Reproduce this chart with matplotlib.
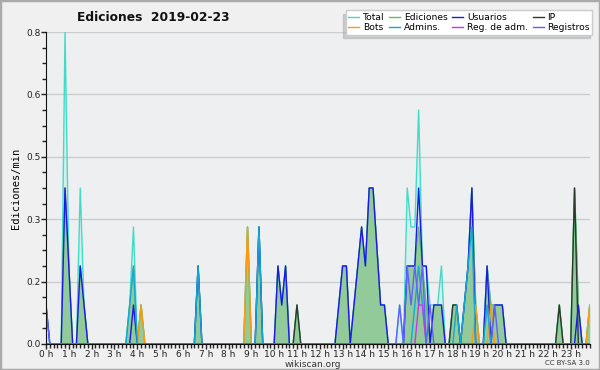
import numpy as np
import matplotlib
matplotlib.use('Agg')
import matplotlib.pyplot as plt
from matplotlib.ticker import MultipleLocator
from matplotlib.patches import Rectangle

# Edits per minute in 10 minute bins (missing bins are 0)
total = {'00:00': 0.1, '00:50': 0.8, '01:00': 0.2, '01:30': 0.4, '01:40': 0.1,
         '03:40': 0.1, '03:50': 0.3, '04:10': 0.1, '06:40': 0.2, '08:50': 0.3,
         '09:20': 0.3, '10:10': 0.2, '10:20': 0.1, '10:30': 0.2, '11:00': 0.1,
         '12:50': 0.1, '13:00': 0.2, '13:10': 0.2, '13:30': 0.1, '13:40': 0.2,
         '13:50': 0.3, '14:00': 0.2, '14:10': 0.4, '14:20': 0.4, '14:30': 0.25,
         '14:40': 0.1, '14:50': 0.1, '15:30': 0.1, '15:50': 0.4, '16:00': 0.3,
         '16:10': 0.3, '16:20': 0.6, '16:30': 0.2, '16:40': 0.2, '16:50': 0.1,
         '17:00': 0.1, '17:10': 0.1, '17:20': 0.2, '17:50': 0.1, '18:00': 0.1,
         '18:20': 0.1, '18:30': 0.2, '18:40': 0.4, '18:50': 0.1, '19:20': 0.2,
         '19:30': 0.1, '19:40': 0.1, '19:50': 0.1, '20:00': 0.1, '22:30': 0.1,
         '23:10': 0.4, '23:20': 0.1, '23:50': 0.1}
ediciones = {'00:50': 0.4, '01:00': 0.2, '01:30': 0.2, '01:40': 0.1,
             '03:40': 0.1, '03:50': 0.2, '04:10': 0.1, '06:40': 0.2, '08:50': 0.3,
             '09:20': 0.3, '10:10': 0.2, '10:20': 0.1, '10:30': 0.2, '11:00': 0.1,
             '12:50': 0.1, '13:00': 0.2, '13:10': 0.2, '13:30': 0.1, '13:40': 0.2,
             '13:50': 0.3, '14:00': 0.2, '14:10': 0.4, '14:20': 0.4, '14:30': 0.25,
             '14:40': 0.1, '14:50': 0.1, '15:50': 0.2, '16:00': 0.2, '16:10': 0.2,
             '16:20': 0.3, '16:30': 0.2, '16:40': 0.1, '17:00': 0.1, '17:10': 0.1,
             '17:20': 0.1, '17:50': 0.1, '18:00': 0.1, '18:20': 0.1, '18:30': 0.2,
             '18:40': 0.4, '18:50': 0.1, '19:20': 0.2, '19:30': 0.1, '19:40': 0.1,
             '19:50': 0.1, '20:00': 0.1, '22:30': 0.1, '23:10': 0.4, '23:20': 0.1,
             '23:50': 0.1}
usuarios = {'00:00': 0.1, '00:50': 0.4, '01:00': 0.2, '01:30': 0.2, '01:40': 0.1,
            '03:50': 0.1, '06:40': 0.2, '09:20': 0.3, '10:10': 0.2, '10:20': 0.1,
            '10:30': 0.2, '12:50': 0.1, '13:00': 0.2, '13:10': 0.2, '13:30': 0.1,
            '13:40': 0.2, '13:50': 0.3, '14:00': 0.2, '14:10': 0.4, '14:20': 0.4,
            '14:30': 0.25, '14:40': 0.1, '14:50': 0.1, '15:50': 0.2, '16:00': 0.2,
            '16:10': 0.2, '16:20': 0.4, '16:30': 0.2, '16:40': 0.2, '17:00': 0.1,
            '17:10': 0.1, '17:20': 0.1, '18:20': 0.1, '18:30': 0.2, '18:40': 0.4,
            '19:20': 0.2, '19:40': 0.1, '19:50': 0.1, '20:00': 0.1, '23:20': 0.1}
ip = {'11:00': 0.1, '17:50': 0.1, '18:00': 0.1, '22:30': 0.1, '23:10': 0.4}
bots = {'04:10': 0.1, '08:50': 0.3, '18:50': 0.1, '19:30': 0.1, '23:50': 0.1}
admins = {'03:40': 0.1, '03:50': 0.2, '06:40': 0.2, '09:20': 0.3, '16:10': 0.1,
          '16:20': 0.2, '16:30': 0.1, '18:00': 0.1, '18:20': 0.1, '18:30': 0.2,
          '18:40': 0.3, '19:20': 0.1}
reg_adm = {'16:20': 0.1, '16:30': 0.1}
registros = {'00:00': 0.1, '15:30': 0.1, '15:50': 0.2, '16:00': 0.1, '16:10': 0.2,
             '16:20': 0.1, '16:30': 0.2, '16:50': 0.1, '19:40': 0.1}

hour_labels = [f'{h} h' for h in range(24)]


def to_bins(d):
    v = np.zeros(144)
    for t, val in d.items():
        h, m = t.split(':')
        v[(int(h) * 60 + int(m)) // 10] = val
    return v


x = np.arange(144) / 6.0

fig = plt.figure(figsize=(6, 3.7), dpi=100, facecolor='#f0f0f0')
ax = fig.add_axes([0.0767, 0.0703, 0.9062, 0.8432])
ax.set_facecolor('#eeeff1')

tot = to_bins(total)
edi = to_bins(ediciones)
ax.fill_between(x, tot, color='#40e0d0', alpha=0.12, lw=0)
ax.fill_between(x, edi, color='#90c996', alpha=0.95, lw=0)

series = [
    ('Total', tot, '#40dcc8'),
    ('Ediciones', edi, '#66bb66'),
    ('Usuarios', to_bins(usuarios), '#1a1ae8'),
    ('IP', to_bins(ip), '#2b3a2b'),
    ('Bots', to_bins(bots), '#ff9a10'),
    ('Admins.', to_bins(admins), '#12a8d8'),
    ('Reg. de adm.', to_bins(reg_adm), '#cc33ee'),
    ('Registros', to_bins(registros), '#6060ff'),
]
lines = {}
for name, vals, col in series:
    lines[name], = ax.plot(x, vals, color=col, lw=1.0, label=name)

ax.set_xlim(0, 143 / 6.0)
ax.set_ylim(0, 0.8)
ax.set_xticks(range(24))
ax.set_xticklabels(hour_labels)
ax.xaxis.set_minor_locator(MultipleLocator(1 / 6.0))
ax.set_yticks(np.arange(0, 0.81, 0.16))
ax.set_yticklabels([f'{v:.1f}' for v in np.arange(0, 0.81, 0.16)])
ax.yaxis.set_minor_locator(MultipleLocator(0.04))
ax.tick_params(which='major', length=3.5, width=1, labelsize=6.5, pad=0.5, colors='#222222')
ax.tick_params(which='minor', length=3, width=1, colors='#222222')
ax.grid(axis='y', color='#cccccc', lw=1)
ax.set_axisbelow(True)
for s in ['top', 'right']:
    ax.spines[s].set_visible(False)
for s in ['left', 'bottom']:
    ax.spines[s].set_color('#111111')

ax.set_ylabel('Ediciones/min', family='DejaVu Sans Mono', fontsize=7.5, labelpad=4)

fig.text(0.255, 0.953, 'Ediciones  2019-02-23', ha='center', va='center',
         fontsize=8.8, fontweight='bold', color='#111111')
fig.text(0.522, 0.016, 'wikiscan.org', ha='center', va='center', fontsize=6.5, color='#333333')
fig.text(0.983, 0.018, 'CC BY-SA 3.0', ha='right', va='center', fontsize=5, color='#333333')

order = ['Total', 'Bots', 'Ediciones', 'Admins.', 'Usuarios', 'Reg. de adm.', 'IP', 'Registros']
leg = fig.legend([lines[n] for n in order], order, ncol=4, loc='upper right',
                 bbox_to_anchor=(0.995, 0.985), fontsize=6.6, handlelength=1.2,
                 handletextpad=0.4, columnspacing=0.5, labelspacing=0.1,
                 borderpad=0.3, fancybox=False, framealpha=1, edgecolor='#cccccc',
                 shadow={'ox': -2, 'oy': -2.5, 'color': '#aaaaaa'})

fig.patches.append(Rectangle((0, 0), 1, 1, transform=fig.transFigure, fill=False,
                             edgecolor='#aaaaaa', lw=2.5))

fig.savefig('out.png', dpi=100, facecolor=fig.get_facecolor())
